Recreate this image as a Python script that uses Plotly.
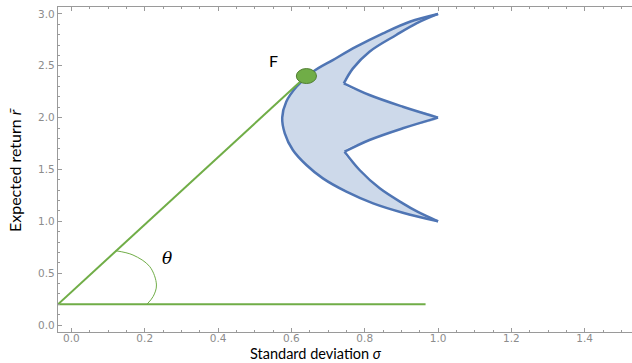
import plotly.graph_objects as go

# ---- data ----
# outline of the feasible region (sigma, expected return)
outer_sigma = [1.0, 0.923, 0.850, 0.777, 0.713, 0.659, 0.614, 0.586, 0.575, 0.582, 0.604, 0.641, 0.686, 0.750, 0.823, 0.904, 1.0]
outer_ret   = [3.0, 2.925, 2.813, 2.684, 2.555, 2.443, 2.298, 2.153, 2.0, 1.849, 1.688, 1.543, 1.414, 1.286, 1.173, 1.083, 1.0]
# inner edges: bottom tip -> lower notch -> middle tip -> upper notch -> top tip
inner_sigma = [1.0, 0.945, 0.904, 0.841, 0.786, 0.745, 0.813, 0.904, 1.0, 0.904, 0.813, 0.743, 0.768, 0.813, 0.886, 0.941, 1.0]
inner_ret   = [1.0, 1.09, 1.173, 1.318, 1.495, 1.671, 1.784, 1.897, 2.0, 2.105, 2.218, 2.331, 2.475, 2.636, 2.797, 2.909, 3.0]
inner_breaks = [0, 5, 8, 11, 16]   # indices of tips / notches (sharp corners)

rf = 0.2
sigma_start = -0.0365
tangent_sigma = [sigma_start, 0.641]
tangent_ret = [rf, 2.401]
riskfree_sigma = [sigma_start, 0.966]
riskfree_ret = [rf, rf]

F_sigma, F_ret = 0.641, 2.401

arc_sigma = [0.121, 0.168, 0.214, 0.232, 0.223, 0.206]
arc_ret   = [0.716, 0.675, 0.562, 0.386, 0.275, 0.2]

x_ticks = [0.0, 0.2, 0.4, 0.6, 0.8, 1.0, 1.2, 1.4]
y_ticks = [0.0, 0.5, 1.0, 1.5, 2.0, 2.5, 3.0]

BLUE = "#4f75b4"
FILL = "#cdd9ea"
GREEN = "#70ad47"
GRAY = "#9a9a9a"

fig = go.Figure()

# filled region (no outline)
fig.add_trace(go.Scatter(
    x=outer_sigma + inner_sigma[1:], y=outer_ret + inner_ret[1:],
    mode="lines", fill="toself", fillcolor=FILL, line_shape="spline",
    line=dict(color=FILL, width=0), hoverinfo="skip", showlegend=False))

# smooth outline pieces
fig.add_trace(go.Scatter(x=outer_sigma, y=outer_ret, mode="lines", line_shape="spline",
                         line=dict(color=BLUE, width=2.5), showlegend=False))
for a, b in zip(inner_breaks[:-1], inner_breaks[1:]):
    fig.add_trace(go.Scatter(x=inner_sigma[a:b + 1], y=inner_ret[a:b + 1], mode="lines",
                             line_shape="spline", line=dict(color=BLUE, width=2.5),
                             showlegend=False))

fig.add_trace(go.Scatter(x=riskfree_sigma, y=riskfree_ret, mode="lines",
                         line=dict(color=GREEN, width=2), showlegend=False, cliponaxis=False))
fig.add_trace(go.Scatter(x=tangent_sigma, y=tangent_ret, mode="lines",
                         line=dict(color=GREEN, width=2), showlegend=False, cliponaxis=False))
fig.add_trace(go.Scatter(x=arc_sigma, y=arc_ret, mode="lines", line_shape="spline",
                         line=dict(color=GREEN, width=1), showlegend=False))

fig.add_shape(type="circle", xref="x", yref="y",
              x0=F_sigma - 0.0275, x1=F_sigma + 0.0275,
              y0=F_ret - 0.072, y1=F_ret + 0.072,
              fillcolor=GREEN, line=dict(color="#507e32", width=1), layer="above")

fig.add_annotation(x=0.55, y=2.555, text="F", showarrow=False,
                   font=dict(family="Lato", size=16, color="black"))
fig.add_annotation(x=0.262, y=0.646, text="<i>θ</i>", showarrow=False,
                   font=dict(family="DejaVu Serif", size=17, color="black"))
fig.add_annotation(x=-0.15, y=0.24, text="<i>r</i><sub><i>f</i></sub>", showarrow=False,
                   font=dict(family="DejaVu Serif", size=18, color="black"))

fig.add_annotation(xref="paper", yref="paper", x=(316 - 58) / 574, y=-(363 - 332) / 325,
                   text="Standard deviation <i>σ</i>", showarrow=False, yanchor="bottom",
                   borderpad=0, font=dict(family="Lato", size=14.5, color="black"))
fig.add_annotation(xref="paper", yref="paper", x=-(58 - 15) / 574, y=(332 - 170) / 325,
                   text="Expected return <i>r̄</i>", showarrow=False, textangle=-90,
                   xanchor="center", yanchor="middle",
                   font=dict(family="Lato", size=16, color="black"))

axis_common = dict(
    showgrid=False, zeroline=False, showline=True, linecolor=GRAY, linewidth=1.3,
    ticks="inside", ticklen=4, tickcolor=GRAY, tickwidth=1,
    tickfont=dict(family="DejaVu Sans", size=10.5, color="#8c8c8c"),
    tickformat=".1f", automargin=False,
)

fig.update_xaxes(range=[sigma_start, 1.529], tickvals=x_ticks, mirror="ticks",
                 ticklabelstandoff=-4,
                 minor=dict(ticks="inside", ticklen=2, dtick=0.05, tick0=0, tickcolor=GRAY),
                 **axis_common)
fig.update_yaxes(range=[-0.0675, 3.067], tickvals=y_ticks,
                 minor=dict(ticks="inside", ticklen=2, dtick=0.1, tick0=0, tickcolor=GRAY),
                 **axis_common)

fig.update_layout(width=632, height=363, margin=dict(l=58, r=0, t=7, b=31),
                  plot_bgcolor="white", paper_bgcolor="white", showlegend=False)

fig.write_html("out.html", config={"displayModeBar": False},
               post_script="document.body.style.margin='0px';document.body.style.overflow='hidden';")
